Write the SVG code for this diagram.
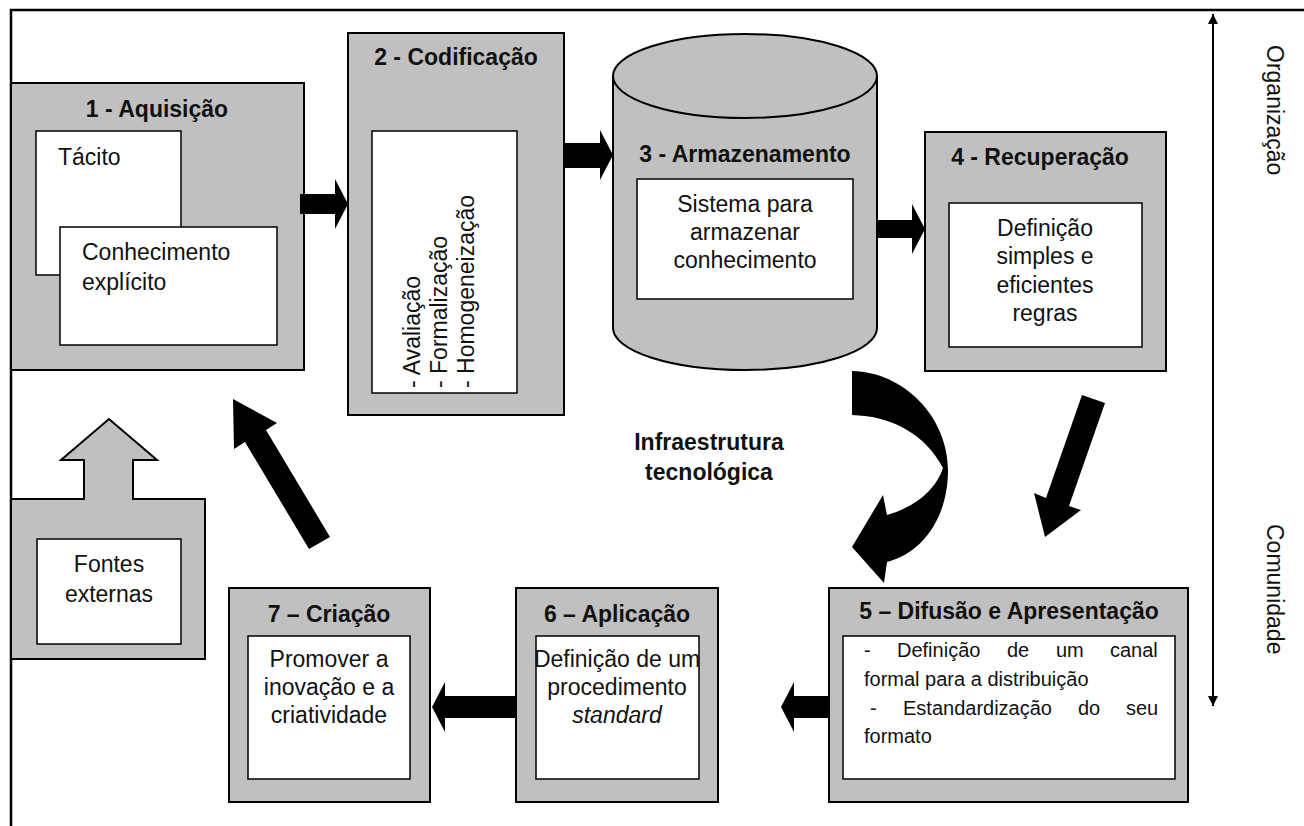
<svg xmlns="http://www.w3.org/2000/svg" width="1304" height="826" viewBox="0 0 1304 826">
  <style>
    .panel { fill: #c0c0c0; stroke: #000; stroke-width: 2; }
    .card { fill: #fff; stroke: #000; stroke-width: 1.5; }
    .frame { fill: none; stroke: #000; stroke-width: 2.5; }
    .flow { fill: #000; stroke: none; }
    .title { font-family: "Liberation Sans", Arial, sans-serif; font-size: 23px; font-weight: bold; fill: #111; }
    .body { font-family: "Liberation Sans", Arial, sans-serif; font-size: 23px; fill: #111; }
    .small { font-family: "Liberation Sans", Arial, sans-serif; font-size: 20px; fill: #111; }
    .mid { text-anchor: middle; }
  </style>
  <defs>
    <marker id="tip" viewBox="0 0 10 10" refX="10" refY="5" markerWidth="5" markerHeight="5" orient="auto-start-reverse">
      <path d="M0,0 L10,5 L0,10 Z" fill="#000"/>
    </marker>
  </defs>

  <rect width="1304" height="826" fill="#fff"/>

  <!-- outer frame: top and left rules -->
  <path class="frame" d="M11,826 L11,10 L1304,10"/>

  <!-- 1 - Aquisição -->
  <g id="node-aquisicao">
    <rect class="panel" x="11" y="83" width="293" height="287"/>
    <text class="title mid" x="157" y="117">1 - Aquisição</text>
    <rect class="card" x="36" y="131" width="145" height="144"/>
    <text class="body" x="58" y="165">Tácito</text>
    <rect class="card" x="60" y="227" width="217" height="118"/>
    <text class="body" x="82" y="260">Conhecimento</text>
    <text class="body" x="82" y="290">explícito</text>
  </g>

  <!-- 2 - Codificação -->
  <g id="node-codificacao">
    <rect class="panel" x="348" y="33" width="216" height="382"/>
    <text class="title mid" x="456" y="65">2 - Codificação</text>
    <rect class="card" x="372" y="131" width="145" height="262"/>
    <text class="body" transform="translate(420,388) rotate(-90)">- Avaliação</text>
    <text class="body" transform="translate(447,388) rotate(-90)">- Formalização</text>
    <text class="body" transform="translate(474,388) rotate(-90)">- Homogeneização</text>
  </g>

  <!-- 3 - Armazenamento (cylinder) -->
  <g id="node-armazenamento">
    <path class="panel" d="M613,76 L613,328 A132,42 0 0 0 877,328 L877,76"/>
    <ellipse class="panel" cx="745" cy="76" rx="132" ry="42"/>
    <text class="title mid" x="745" y="162">3 - Armazenamento</text>
    <rect class="card" x="637" y="179" width="216" height="120"/>
    <text class="body mid" x="745" y="212">Sistema para</text>
    <text class="body mid" x="745" y="240">armazenar</text>
    <text class="body mid" x="745" y="268">conhecimento</text>
  </g>

  <!-- 4 - Recuperação -->
  <g id="node-recuperacao">
    <rect class="panel" x="925" y="132" width="241" height="239"/>
    <text class="title mid" x="1040" y="165">4 - Recuperação</text>
    <rect class="card" x="949" y="203" width="193" height="144"/>
    <text class="body mid" x="1045" y="236">Definição</text>
    <text class="body mid" x="1045" y="264">simples e</text>
    <text class="body mid" x="1045" y="293">eficientes</text>
    <text class="body mid" x="1045" y="321">regras</text>
  </g>

  <!-- 5 – Difusão e Apresentação (justified paragraph, words placed by hand) -->
  <g id="node-difusao">
    <rect class="panel" x="829" y="588" width="359" height="214"/>
    <text class="title mid" x="1009" y="619">5 – Difusão e Apresentação</text>
    <rect class="card" x="843" y="636" width="332" height="143"/>
    <text class="small" y="657"><tspan x="864">-</tspan><tspan x="897">Definição</tspan><tspan x="1007">de</tspan><tspan x="1056">um</tspan><tspan x="1110">canal</tspan></text>
    <text class="small" x="864" y="686">formal para a distribuição</text>
    <text class="small" y="715"><tspan x="870">-</tspan><tspan x="903">Estandardização</tspan><tspan x="1078">do</tspan><tspan x="1126">seu</tspan></text>
    <text class="small" x="864" y="743">formato</text>
  </g>

  <!-- 6 – Aplicação -->
  <g id="node-aplicacao">
    <rect class="panel" x="516" y="588" width="202" height="214"/>
    <text class="title mid" x="617" y="622">6 – Aplicação</text>
    <rect class="card" x="536" y="636" width="163" height="143"/>
    <text class="body mid" x="617" y="667">Definição de um</text>
    <text class="body mid" x="617" y="695">procedimento</text>
    <text class="body mid" x="617" y="723" font-style="italic">standard</text>
  </g>

  <!-- 7 – Criação -->
  <g id="node-criacao">
    <rect class="panel" x="229" y="588" width="201" height="214"/>
    <text class="title mid" x="329" y="622">7 – Criação</text>
    <rect class="card" x="248" y="636" width="162" height="143"/>
    <text class="body mid" x="329" y="667">Promover a</text>
    <text class="body mid" x="329" y="695">inovação e a</text>
    <text class="body mid" x="329" y="723">criatividade</text>
  </g>

  <!-- Fontes externas -->
  <g id="node-fontes">
    <path class="panel" d="M11,499 L84,499 L84,460 L61,460 L109,419 L157,460 L133,460 L133,499 L205,499 L205,659 L11,659 Z"/>
    <rect class="card" x="37" y="539" width="144" height="105"/>
    <text class="body mid" x="109" y="572">Fontes</text>
    <text class="body mid" x="109" y="602">externas</text>
  </g>

  <!-- central label -->
  <g id="label-infra">
    <text class="title mid" x="709" y="450">Infraestrutura</text>
    <text class="title mid" x="709" y="480">tecnológica</text>
  </g>

  <!-- scale axis -->
  <g id="axis">
    <line x1="1213" y1="14" x2="1213" y2="706" stroke="#000" stroke-width="2" marker-start="url(#tip)" marker-end="url(#tip)"/>
    <text class="body" transform="translate(1267,45) rotate(90)">Organização</text>
    <text class="body" transform="translate(1267,524) rotate(90)">Comunidade</text>
  </g>

  <!-- connectors -->
  <g id="connectors">
    <polygon class="flow" points="300,194 335,194 335,179 348,204 335,229 335,214 300,214"/>
    <polygon class="flow" points="564,143 600,143 600,130 613,155 600,180 600,168 564,168"/>
    <polygon class="flow" points="877,220 912,220 912,204 925,229 912,254 912,238 877,238"/>
    <polygon class="flow" points="1082,395 1105,403 1069,506 1081,510 1045,537 1034,493 1046,498"/>
    <path class="flow" d="M852,371 C905,372 948,418 948,470 C948,515 925,552 887,562 L884,583 L852,547 L883,495 L887,515 C912,508 935,492 943,468 C925,434 892,416 852,415 Z"/>
    <polygon class="flow" points="829,696 794,696 794,682 781,707 794,732 794,718 829,718"/>
    <polygon class="flow" points="516,696 445,696 445,682 432,707 445,732 445,718 516,718"/>
    <polygon class="flow" points="309,549 330,537 266,430 277,423 233,399 234,449 245,442"/>
  </g>
</svg>
